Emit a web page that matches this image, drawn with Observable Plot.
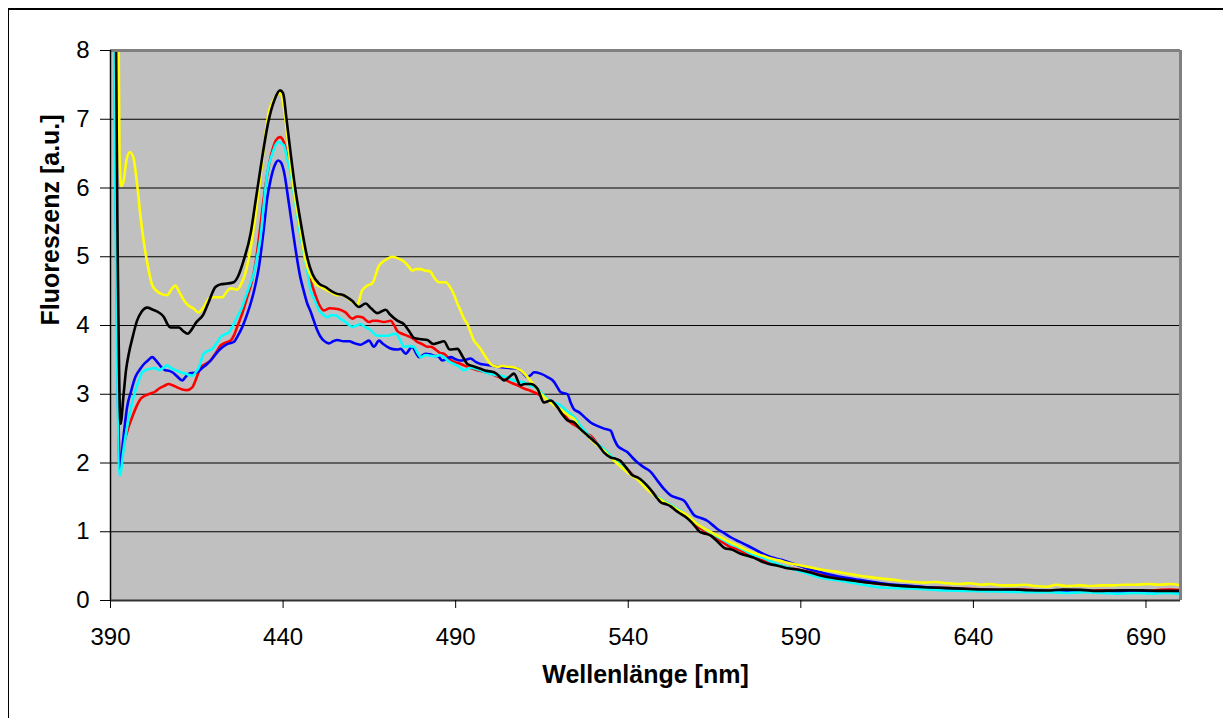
<!DOCTYPE html>
<html><head><meta charset="utf-8">
<script src="https://cdn.jsdelivr.net/npm/d3@7"></script>
<script src="https://cdn.jsdelivr.net/npm/@observablehq/plot@0.6"></script>
<style>
body{margin:0;background:#fff;font-family:"Liberation Sans",Arial,sans-serif;}
#wrap{position:relative;width:1223px;height:718px;overflow:hidden;background:#fff;}
#border{position:absolute;left:8px;top:8px;width:1300px;height:800px;border-top:2px solid #000;border-left:1px solid #000;}
#chart{position:absolute;left:0;top:0;}
</style></head><body>
<div id="wrap"><div id="border"></div><div id="chart"></div></div>
<script>
const xTicks = [390, 440, 490, 540, 590, 640, 690];
const yTicks = [0, 1, 2, 3, 4, 5, 6, 7, 8];
const gridValues = [1, 2, 3, 4, 5, 6, 7];
const xTitle = "Wellenlänge [nm]";
const yTitle = "Fluoreszenz [a.u.]";

const red = [[390.6,12],[391.6,6],[392.9,2.0],[394,2.3],[395.2,2.52],[396.3,2.67],[397.5,2.82],[398.7,2.93],[400,2.98],[401.6,3.01],[403,3.04],[404,3.08],[405.5,3.12],[406.9,3.15],[408,3.13],[409.3,3.1],[410.8,3.07],[412.2,3.06],[413.7,3.1],[415,3.25],[416.1,3.39],[417.5,3.44],[419,3.49],[420.5,3.6],[421.9,3.71],[423.3,3.75],[424.8,3.78],[425.8,3.86],[426.7,3.98],[428,4.15],[429.6,4.41],[431,4.65],[432,4.9],[433.2,5.35],[434.4,5.85],[435.6,6.25],[436.9,6.55],[438,6.7],[439.1,6.74],[440.2,6.67],[441.5,6.4],[442.7,6.16],[444.6,5.53],[446,5.15],[447,4.9],[448,4.65],[448.9,4.51],[450.3,4.32],[451.8,4.22],[453.5,4.25],[455.7,4.24],[457,4.22],[458.1,4.19],[460,4.1],[461.5,4.13],[462.9,4.12],[464.9,4.05],[466,4.07],[467.3,4.07],[469.2,4.05],[471.2,4.07],[472.2,4.0],[473.1,3.92],[474.5,3.88],[476,3.85],[477.9,3.8],[478.9,3.76],[480.3,3.73],[481.8,3.69],[482.8,3.69],[484.2,3.65],[485.5,3.6],[486.6,3.59],[488,3.52],[489.5,3.47],[491,3.45],[492.4,3.42],[494.5,3.38],[496.3,3.35],[498,3.33],[500.1,3.3],[502,3.26],[504,3.22],[506,3.17],[507.9,3.13],[510,3.08],[511.7,3.05],[513.5,3.01],[515.6,2.96],[517.5,2.89],[519.5,2.81],[521.5,2.7],[523.3,2.59],[525.5,2.52],[527.5,2.44],[529.5,2.38],[531.5,2.25],[533.5,2.17],[535.5,2.06],[537.5,1.98],[539.5,1.92],[541.5,1.82],[543.5,1.74],[545.5,1.64],[547.5,1.55],[549.5,1.46],[551.5,1.4],[553.5,1.33],[555.5,1.27],[557.5,1.2],[559.5,1.1],[561.5,1.03],[563.5,0.96],[565.5,0.9],[567.5,0.84],[569.5,0.78],[571.5,0.75],[573.5,0.7],[575.5,0.65],[578,0.6],[580.5,0.56],[583,0.52],[586,0.48],[589,0.45],[592,0.42],[595,0.38],[599,0.34],[603.5,0.3],[608,0.27],[613,0.24],[618,0.22],[623,0.2],[628,0.19],[633,0.18],[638,0.17],[643,0.16],[648,0.15],[653,0.16],[658,0.15],[663,0.14],[668,0.15],[673,0.14],[678,0.15],[683,0.14],[688,0.14],[693,0.15],[697,0.16],[700,0.15]];

const blue = [[390.5,12],[391.5,6.2],[392.7,1.92],[393.7,2.35],[394.8,2.81],[396,3.05],[397.2,3.25],[398.5,3.36],[399.7,3.44],[401,3.5],[402.1,3.54],[403,3.5],[404,3.44],[405,3.38],[405.9,3.35],[407,3.34],[407.9,3.32],[409.3,3.26],[410.8,3.2],[411.7,3.25],[412.7,3.3],[414,3.31],[415.1,3.32],[416.5,3.38],[418,3.44],[419.5,3.52],[420.9,3.61],[422.3,3.68],[423.8,3.73],[425.7,3.76],[427,3.86],[428.2,3.98],[429.5,4.15],[430.6,4.32],[431.8,4.55],[433,4.85],[434.4,5.4],[435.4,5.85],[436.4,6.12],[437.5,6.32],[438.6,6.4],[439.4,6.37],[440.2,6.25],[441.7,5.77],[443.1,5.28],[445,4.7],[446,4.5],[447,4.32],[448,4.2],[448.9,4.07],[449.9,3.93],[450.8,3.84],[451.8,3.78],[453.3,3.74],[454.5,3.77],[455.7,3.79],[457.5,3.77],[459.1,3.77],[460.8,3.74],[462.5,3.72],[463.7,3.75],[464.9,3.78],[466.3,3.69],[467.8,3.78],[469,3.73],[470.2,3.69],[471.5,3.66],[473.1,3.65],[474.1,3.66],[475.5,3.59],[477.4,3.69],[478.5,3.6],[479.4,3.54],[481.3,3.59],[482.5,3.58],[483.7,3.56],[485,3.55],[486.1,3.49],[487.5,3.52],[488.6,3.54],[490,3.51],[491.4,3.49],[492.8,3.5],[494.3,3.52],[495.8,3.47],[497.2,3.44],[498.6,3.43],[500.1,3.42],[502,3.4],[504,3.39],[506,3.38],[507.9,3.37],[509.3,3.32],[510.8,3.25],[511.8,3.28],[512.7,3.32],[514.6,3.3],[516.6,3.25],[518.5,3.18],[519.5,3.1],[520.4,3.03],[522.4,3.0],[523.3,2.88],[524.3,2.78],[525.7,2.74],[527.5,2.66],[529.1,2.59],[531,2.54],[533,2.5],[534.9,2.47],[535.9,2.35],[536.9,2.25],[538.3,2.2],[539.7,2.16],[541.2,2.08],[542.6,2.01],[544.5,1.94],[546.5,1.87],[548.5,1.74],[550.4,1.62],[552.3,1.53],[554.2,1.49],[556.2,1.45],[557.7,1.34],[559.1,1.24],[561,1.2],[562.9,1.16],[564.4,1.1],[565.8,1.04],[567.8,0.98],[569.7,0.92],[572,0.86],[574.5,0.8],[577.5,0.72],[580.3,0.65],[582.8,0.61],[585.2,0.58],[588,0.53],[591,0.48],[593.5,0.44],[595.8,0.41],[599,0.37],[603,0.33],[607,0.3],[611,0.27],[615,0.24],[620,0.22],[625,0.2],[630,0.18],[635,0.17],[640,0.16],[645,0.15],[650,0.15],[655,0.14],[660,0.14],[665,0.13],[670,0.14],[675,0.13],[680,0.13],[685,0.12],[690,0.13],[695,0.13],[700,0.12]];

const cyan = [[390.4,12],[391.3,6.5],[392.7,1.82],[393.8,2.2],[394.8,2.52],[396,2.82],[397.2,3.05],[398.2,3.2],[399.2,3.32],[400.5,3.36],[401.6,3.37],[403,3.38],[404,3.35],[405.2,3.38],[406.4,3.42],[407.6,3.38],[408.8,3.35],[410.3,3.32],[411.7,3.3],[413.7,3.27],[414.7,3.32],[415.6,3.39],[417,3.59],[418.2,3.63],[419.5,3.66],[420.8,3.75],[421.9,3.83],[423,3.87],[424.3,3.9],[425.5,4.0],[426.7,4.12],[428,4.25],[429.1,4.41],[430.3,4.58],[431.5,4.75],[432.5,5.0],[433.5,5.3],[434.5,5.8],[435.4,6.21],[436.9,6.5],[438.6,6.67],[440.2,6.62],[441.2,6.42],[442.2,6.21],[443.5,5.8],[444.6,5.43],[445.8,5.1],[447,4.8],[448,4.5],[448.9,4.4],[450.4,4.22],[451.6,4.16],[452.8,4.12],[454,4.15],[455.2,4.15],[456.5,4.1],[457.6,4.07],[458.8,4.02],[460,3.98],[461.3,4.0],[462.5,4.02],[463.7,3.98],[464.9,3.95],[466,3.9],[467.3,3.85],[468.8,3.85],[470.2,3.85],[471.4,3.87],[472.6,3.88],[473.8,3.8],[475,3.69],[476.5,3.7],[477.9,3.69],[479,3.6],[479.9,3.54],[481.3,3.57],[482.8,3.56],[484.2,3.55],[485.5,3.57],[486.6,3.54],[488,3.48],[489.5,3.44],[491,3.4],[492.4,3.35],[494.3,3.39],[495.8,3.37],[497.2,3.35],[498.6,3.32],[500.1,3.3],[501.5,3.28],[503,3.27],[505,3.24],[506.9,3.2],[509,3.18],[510.8,3.15],[512.3,3.11],[513.7,3.08],[515.2,3.0],[516.6,2.93],[518.5,2.88],[520.4,2.84],[522.3,2.75],[524.3,2.67],[526.2,2.54],[528.2,2.42],[530.5,2.3],[533,2.2],[535.5,2.08],[537.8,1.97],[540,1.87],[542.7,1.77],[545,1.66],[547.5,1.54],[550,1.46],[552.3,1.39],[555,1.31],[557.1,1.23],[559.5,1.13],[562,1.04],[564.5,0.97],[566.8,0.9],[569,0.84],[571.6,0.78],[574,0.72],[576.5,0.66],[579,0.62],[581.3,0.57],[584.2,0.51],[587,0.47],[590,0.42],[593.9,0.36],[597,0.32],[600,0.3],[603.5,0.27],[608,0.23],[613.2,0.19],[618,0.18],[622.8,0.17],[627,0.16],[632.5,0.145],[637,0.14],[642.2,0.135],[647,0.13],[652,0.125],[657,0.12],[662,0.12],[667,0.11],[672,0.12],[677,0.11],[682,0.1],[687,0.11],[692,0.1],[696,0.11],[700,0.1]];

const yellow = [[391.8,12],[392.6,6.5],[393.1,6.03],[393.8,6.1],[394.6,6.4],[395.6,6.52],[396.6,6.45],[397.6,6.1],[398.9,5.5],[400,5.1],[400.9,4.85],[402,4.6],[403.2,4.51],[404.7,4.46],[406.4,4.44],[408,4.55],[408.8,4.58],[410,4.48],[411.5,4.35],[412.6,4.29],[414,4.25],[415.5,4.19],[417,4.27],[418.5,4.39],[420,4.41],[422.4,4.41],[423.5,4.48],[424.8,4.54],[426.7,4.52],[428,4.62],[429,4.75],[430.5,5.1],[432,5.6],[434,6.4],[435.8,7.09],[437.5,7.3],[439.1,7.38],[440.3,7.15],[442,6.4],[443.5,5.85],[445,5.4],[446.5,4.95],[448,4.72],[449.5,4.6],[451,4.56],[452.5,4.52],[454,4.48],[455.7,4.44],[457,4.45],[458.6,4.4],[460,4.35],[461.5,4.3],[462.9,4.51],[464.4,4.58],[465.8,4.61],[467.8,4.87],[469,4.93],[470.2,4.97],[471.6,5.0],[473.6,4.97],[475,4.93],[476.5,4.85],[477.4,4.8],[478.5,4.82],[479.9,4.82],[481,4.8],[482.5,4.79],[484,4.68],[485.1,4.63],[487.1,4.63],[488.5,4.55],[489.5,4.45],[490.5,4.32],[491.4,4.22],[492.4,4.1],[493.4,4.02],[494.5,3.88],[495.3,3.78],[496.3,3.72],[497.2,3.66],[498.6,3.55],[500.1,3.44],[501.1,3.41],[502.1,3.4],[503.5,3.41],[505,3.4],[506.9,3.39],[508.8,3.35],[510.8,3.25],[512.7,3.13],[514,3.05],[515.6,2.96],[517,2.9],[518.5,2.84],[520,2.79],[521.4,2.74],[523,2.68],[524.3,2.64],[526,2.5],[528.2,2.4],[530.5,2.28],[533,2.18],[535.5,2.05],[537.8,1.95],[540,1.85],[542.7,1.76],[545,1.64],[547.5,1.53],[550,1.45],[552.3,1.38],[555,1.3],[557.1,1.24],[559.5,1.13],[562,1.05],[564.5,0.98],[566.8,0.92],[569,0.86],[571.6,0.8],[574,0.74],[576.5,0.69],[579,0.65],[581.3,0.61],[584,0.58],[586.1,0.55],[589,0.52],[591,0.5],[594,0.47],[597,0.44],[600,0.42],[603.5,0.39],[607,0.36],[610,0.34],[613.2,0.32],[617,0.3],[620,0.28],[622.8,0.27],[626,0.26],[629,0.27],[632.5,0.25],[636,0.24],[639,0.25],[642.2,0.23],[645,0.24],[648,0.22],[651.8,0.22],[655,0.23],[658,0.21],[661.5,0.2],[664,0.23],[667,0.21],[671.2,0.22],[674,0.21],[677,0.22],[680.8,0.22],[684,0.23],[687,0.23],[690.5,0.24],[694,0.23],[697,0.24],[700,0.22]];

const black = [[391,12],[392,5.5],[392.9,2.57],[393.8,3.0],[394.5,3.35],[395.3,3.59],[396.5,3.85],[397.7,4.07],[399,4.2],[400.6,4.26],[402.3,4.23],[404,4.19],[405.5,4.12],[406.5,4.02],[407.4,3.97],[409.8,3.97],[411,3.92],[412.4,3.88],[413.5,3.94],[414.6,4.03],[417,4.17],[418.5,4.35],[420.4,4.56],[422,4.6],[423.8,4.61],[425.7,4.63],[427,4.72],[428.6,4.95],[430.6,5.34],[432,5.8],[433.5,6.3],[435.8,6.98],[437.5,7.28],[439.1,7.42],[440,7.38],[441,7.0],[442.2,6.5],[443.5,6.0],[445,5.53],[447,4.99],[448.5,4.75],[450.4,4.61],[452.3,4.56],[454,4.5],[455.7,4.46],[457,4.45],[458.6,4.41],[460,4.36],[462,4.27],[463.9,4.32],[465.5,4.25],[467.3,4.18],[469.7,4.23],[471,4.16],[473.1,4.07],[475,4.02],[476.5,3.92],[477.9,3.82],[480,3.8],[481.8,3.79],[483.5,3.73],[485,3.75],[486.6,3.77],[488.3,3.65],[490.5,3.66],[492,3.55],[493.4,3.44],[495.5,3.4],[497.2,3.37],[499,3.34],[501.1,3.32],[502.5,3.27],[504,3.2],[505.5,3.25],[506.9,3.3],[508.8,3.13],[510,3.15],[511.7,3.15],[513.7,3.08],[515.6,2.88],[517.5,2.91],[519.5,2.81],[521,2.7],[522.4,2.62],[524.3,2.59],[526,2.5],[528.2,2.4],[530,2.32],[531.5,2.25],[533,2.15],[534.9,2.08],[536.5,2.06],[537.8,2.03],[539.3,1.94],[541,1.83],[542.7,1.79],[544.1,1.74],[545.5,1.67],[547,1.58],[548.5,1.48],[549.4,1.43],[551,1.4],[552.3,1.37],[554,1.3],[555.2,1.26],[557,1.2],[558.5,1.13],[560,1.04],[561,0.99],[562.5,0.97],[564,0.94],[566,0.85],[568,0.76],[570,0.74],[572.6,0.68],[574.5,0.65],[576.5,0.62],[578.5,0.57],[580.8,0.53],[583,0.51],[586.1,0.47],[589,0.45],[591,0.43],[593.9,0.39],[596,0.36],[599,0.33],[603.5,0.3],[608,0.27],[613.2,0.24],[617,0.22],[622.8,0.2],[627,0.19],[632.5,0.18],[637,0.17],[642.2,0.16],[647,0.16],[651.8,0.16],[656,0.15],[661.5,0.145],[666,0.16],[671.2,0.155],[676,0.14],[680.8,0.145],[685,0.15],[690.5,0.145],[695,0.14],[700,0.14]];

const seriesOrder = [
  {data: red, color: "#ff0000"},
  {data: blue, color: "#0000ff"},
  {data: cyan, color: "#00ffff"},
  {data: yellow, color: "#ffff00"},
  {data: black, color: "#000000"}
];

const chart = Plot.plot({
  width: 1223, height: 718,
  marginLeft: 110, marginRight: 43, marginTop: 50, marginBottom: 118,
  style: {fontFamily: "'Liberation Sans', Arial, sans-serif", fontSize: "24px", background: "transparent", overflow: "visible", color: "#000"},
  x: {domain: [390, 700]},
  y: {domain: [0, 8]},
  marks: [
    Plot.frame({fill: "#c0c0c0"}),
    Plot.ruleY(gridValues, {stroke: "#000", strokeWidth: 1}),
    ...seriesOrder.map(s => Plot.line(s.data, {x: d => d[0], y: d => d[1], stroke: s.color, strokeWidth: 2.6, curve: "monotone-x", clip: true})),
    Plot.ruleY([8], {stroke: "#808080", strokeWidth: 3}),
    Plot.ruleX([700], {stroke: "#808080", strokeWidth: 3}),
    Plot.ruleX([390], {stroke: "#000", strokeWidth: 1.5}),
    Plot.ruleY([0], {stroke: "#333", strokeWidth: 2}),
    Plot.axisX(xTicks, {tickSize: 8, tickPadding: 19, label: null, fontSize: 24, stroke: "#000", tickFormat: d => String(d)}),
    Plot.axisY(yTicks, {tickSize: 10, tickPadding: 11, label: null, fontSize: 24, stroke: "#000", tickFormat: d => String(d)}),
    Plot.text([xTitle], {frameAnchor: "bottom", dy: 82, fontWeight: "bold", fontSize: 25}),
    Plot.text([yTitle], {frameAnchor: "left", dx: -60, rotate: -90, fontWeight: "bold", fontSize: 25})
  ]
});
document.getElementById("chart").appendChild(chart);
</script>
</body></html>
